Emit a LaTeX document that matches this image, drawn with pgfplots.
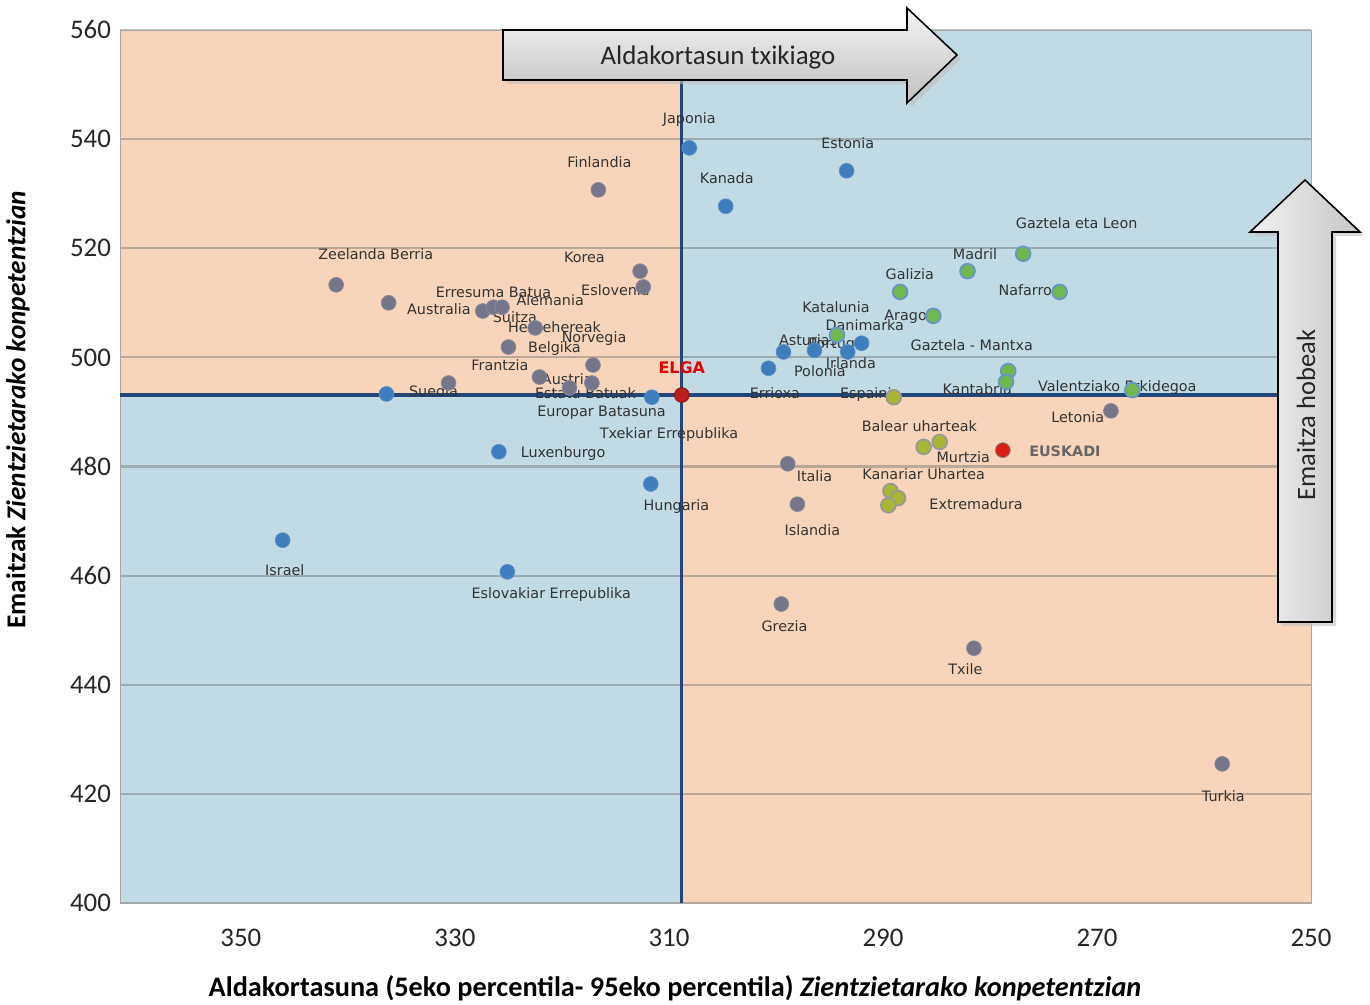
\documentclass[border=0pt]{standalone}
\usepackage{fontspec}
\setmainfont{Carlito}
\newfontfamily\lab{DejaVu Sans}
\usepackage{pgfplots}
\pgfplotsset{compat=1.18}
\pgfplotsset{set layers}
\definecolor{qorange}{RGB}{248,213,186}
\definecolor{qblue}{RGB}{193,218,227}
\definecolor{qline}{RGB}{35,70,120}
\definecolor{pgrey}{RGB}{118,118,138}
\definecolor{pblue}{RGB}{62,125,190}
\definecolor{pgreen}{RGB}{112,184,78}
\definecolor{polive}{RGB}{168,182,52}
\definecolor{peus}{RGB}{218,30,20}
\definecolor{pelga}{RGB}{185,30,30}
\tikzset{lb/.style={font=\lab\fontsize{7.2}{8}\selectfont, text=black!80, inner sep=0pt, anchor=center}}
\begin{document}
\begin{tikzpicture}
\begin{axis}[
  scale only axis, width=595.5bp, height=436.5bp,
  x dir=reverse, xmin=250, xmax=361.3, ymin=400, ymax=560,
  xtick={250,270,...,350}, ytick={400,420,...,560},
  ymajorgrids, grid style={draw=black!55, opacity=0.45, line width=1.1pt},
  axis line style={draw=black!35},
  tick style={draw=none},
  ticklabel style={font=\fontsize{13.5}{14}\selectfont, text=black!85},
  /pgf/number format/assume math mode=true,
  xticklabel style={yshift=-9.5bp},
  yticklabel style={xshift=-1bp},
  xlabel={\bfseries Aldakortasuna (5eko percentila- 95eko percentila) \textit{Zientzietarako konpetentzian}},
  ylabel={\bfseries Emaitzak \textit{Zientzietarako konpetentzian}},
  xlabel style={at={(axis description cs:0.466,-0.0975)}, anchor=center, font=\fontsize{14.2}{15}\selectfont},
  ylabel style={at={(axis description cs:-0.0856,0.565)}, anchor=center, font=\fontsize{13.7}{15}\selectfont},
  clip=false,
]
\begin{pgfonlayer}{axis background}
\fill[qorange] (axis cs:361.3,493.1) rectangle (axis cs:308.8,560);
\fill[qblue] (axis cs:308.8,493.1) rectangle (axis cs:250,560);
\fill[qblue] (axis cs:361.3,400) rectangle (axis cs:308.8,493.1);
\fill[qorange] (axis cs:308.8,400) rectangle (axis cs:250,493.1);
\end{pgfonlayer}
\draw[qline, line width=1.6pt] (axis cs:308.8,400) -- (axis cs:308.8,560);
\draw[qline, line width=1.6pt] (axis cs:361.3,493.1) -- (axis cs:250,493.1);

% grey: OECD countries in orange quadrants
\addplot[only marks, mark=*, mark size=3.7bp, mark options={fill=pgrey, draw=pgrey!85!white}] coordinates {
(341.1,513.3) (336.2,510.0) (327.4,508.5) (326.4,509.2) (325.6,509.2)
(322.5,505.4) (325.0,501.9) (312.7,515.8) (312.4,512.9) (317.1,498.6)
(322.1,496.4) (317.2,495.3) (330.6,495.3) (319.3,494.4) (316.6,530.7)
(298.9,480.5) (298.0,473.1) (299.5,454.8) (281.5,446.7) (258.3,425.5)
(268.7,490.2)};
% blue: countries in blue quadrants
\addplot[only marks, mark=*, mark size=3.7bp, mark options={fill=pblue, draw=pblue!85!white}] coordinates {
(308.1,538.4) (304.7,527.7) (293.4,534.2) (299.3,501.0) (296.4,501.3)
(293.3,501.0) (292.0,502.6) (300.7,498.0) (336.4,493.3) (311.6,492.7)
(325.9,482.7) (311.7,476.8) (346.1,466.5) (325.1,460.7)};
% green: Spanish regions above OECD
\addplot[only marks, mark=*, mark size=3.7bp, mark options={fill=pgreen, draw=pblue!80, line width=0.9pt}] coordinates {
(276.9,519.0) (282.1,515.8) (288.4,512.0) (273.5,512.0) (285.3,507.6)
(294.3,504.1) (278.3,497.5) (278.5,495.5) (266.7,494.0)};
% olive: Spanish regions below OECD
\addplot[only marks, mark=*, mark size=3.7bp, mark options={fill=polive, draw=gray!80, line width=0.9pt}] coordinates {
(289.0,492.7) (286.2,483.6) (284.7,484.5) (289.3,475.5) (288.6,474.2) (289.5,472.9)};
% ELGA
\addplot[only marks, mark=*, mark size=3.7bp, mark options={fill=pelga, draw=pelga!70!black}] coordinates {(308.8,493.1)};
% EUSKADI
\addplot[only marks, mark=*, mark size=3.7bp, mark options={fill=peus, draw=gray}] coordinates {(278.8,483.0)};

\node[lb] at (axis cs:308.1,543.5) {Japonia};
\node[lb] at (axis cs:316.5,535.8) {Finlandia};
\node[lb] at (axis cs:293.3,539.3) {Estonia};
\node[lb] at (axis cs:304.6,532.9) {Kanada};
\node[lb] at (axis cs:271.9,524.6) {Gaztela eta Leon};
\node[lb] at (axis cs:337.4,518.9) {Zeelanda Berria};
\node[lb] at (axis cs:317.9,518.4) {Korea};
\node[lb] at (axis cs:281.4,518.9) {Madril};
\node[lb] at (axis cs:287.5,515.3) {Galizia};
\node[lb] at (axis cs:276.3,512.3) {Nafarroa};
\node[lb] at (axis cs:326.4,512.0) {Erresuma Batua};
\node[lb] at (axis cs:315.0,512.3) {Eslovenia};
\node[lb] at (axis cs:321.1,510.5) {Alemania};
\node[lb] at (axis cs:331.5,508.9) {Australia};
\node[lb] at (axis cs:294.4,509.2) {Katalunia};
\node[lb] at (axis cs:324.4,507.4) {Suitza};
\node[lb] at (axis cs:287.7,507.4) {Aragoi};
\node[lb] at (axis cs:291.7,505.9) {Danimarka};
\node[lb] at (axis cs:320.7,505.6) {Herbehereak};
\node[lb] at (axis cs:317.0,503.4) {Norvegia};
\node[lb] at (axis cs:297.0,503.2) {Asturias};
\node[lb] at (axis cs:294.2,502.4) {Portugal};
\node[lb] at (axis cs:281.7,502.3) {Gaztela - Mantxa};
\node[lb] at (axis cs:320.7,501.7) {Belgika};
\node[lb] at (axis cs:293.0,499.0) {Irlanda};
\node[lb] at (axis cs:325.8,498.6) {Frantzia};
\node[lb, font=\lab\bfseries\fontsize{8}{9}\selectfont, text=red!90!black] at (axis cs:308.8,498.2) {ELGA};
\node[lb] at (axis cs:295.9,497.5) {Polonia};
\node[lb] at (axis cs:319.5,496.0) {Austria};
\node[lb] at (axis cs:332.0,493.8) {Suedia};
\node[lb] at (axis cs:317.8,493.5) {Estatu Batuak};
\node[lb] at (axis cs:300.1,493.5) {Errioxa};
\node[lb] at (axis cs:291.2,493.1) {Espainia};
\node[lb] at (axis cs:281.2,494.2) {Kantabria};
\node[lb] at (axis cs:268.1,494.4) {Valentziako Erkidegoa};
\node[lb] at (axis cs:316.3,489.8) {Europar Batasuna};
\node[lb] at (axis cs:271.8,489.1) {Letonia};
\node[lb] at (axis cs:310.0,485.8) {Txekiar Errepublika};
\node[lb] at (axis cs:286.6,487.4) {Balear uharteak};
\node[lb] at (axis cs:319.9,482.3) {Luxenburgo};
\node[lb, font=\lab\bfseries\fontsize{7.2}{8}\selectfont, text=black!60] at (axis cs:273.0,482.8) {EUSKADI};
\node[lb] at (axis cs:282.5,481.7) {Murtzia};
\node[lb] at (axis cs:296.4,478.3) {Italia};
\node[lb] at (axis cs:286.2,478.6) {Kanariar Uhartea};
\node[lb] at (axis cs:281.3,473.1) {Extremadura};
\node[lb] at (axis cs:309.3,472.6) {Hungaria};
\node[lb] at (axis cs:296.6,468.4) {Islandia};
\node[lb] at (axis cs:345.9,461.0) {Israel};
\node[lb] at (axis cs:321.0,456.6) {Eslovakiar Errepublika};
\node[lb] at (axis cs:299.2,450.8) {Grezia};
\node[lb] at (axis cs:282.3,442.9) {Txile};
\node[lb] at (axis cs:258.2,419.6) {Turkia};
\coordinate (NW) at (axis description cs:0,1);
\end{axis}
\begin{scope}[shift={(NW)}]
\begin{scope}[x=0.5bp,y=-0.5bp,shift={(-120,-30)}]
% top arrow
\fill[black!25, opacity=0.6] (507,34)--(911,34)--(911,12)--(961,59)--(911,107)--(911,84)--(507,84)--cycle;
\draw[line width=0.8pt, top color=gray!8, bottom color=gray!50] (503,30)--(907,30)--(907,8)--(957,55)--(907,103)--(907,80)--(503,80)--cycle;
\node[font=\fontsize{13.5}{14}\selectfont, text=black!85] at (718,57) {Aldakortasun txikiago};
% right arrow
\fill[black!25, opacity=0.6] (1282,626)--(1282,236)--(1254,236)--(1309,184)--(1364,236)--(1336,236)--(1336,626)--cycle;
\draw[line width=0.8pt, left color=gray!10, right color=gray!45] (1278,622)--(1278,232)--(1250,232)--(1305,180)--(1360,232)--(1332,232)--(1332,622)--cycle;
\node[rotate=90, font=\fontsize{13.3}{14}\selectfont, text=black!85] at (1306,415) {Emaitza hobeak};
\pgfresetboundingbox
\path[use as bounding box] (0,0) rectangle (1370,1004);
\end{scope}
\end{scope}
\end{tikzpicture}
\end{document}
